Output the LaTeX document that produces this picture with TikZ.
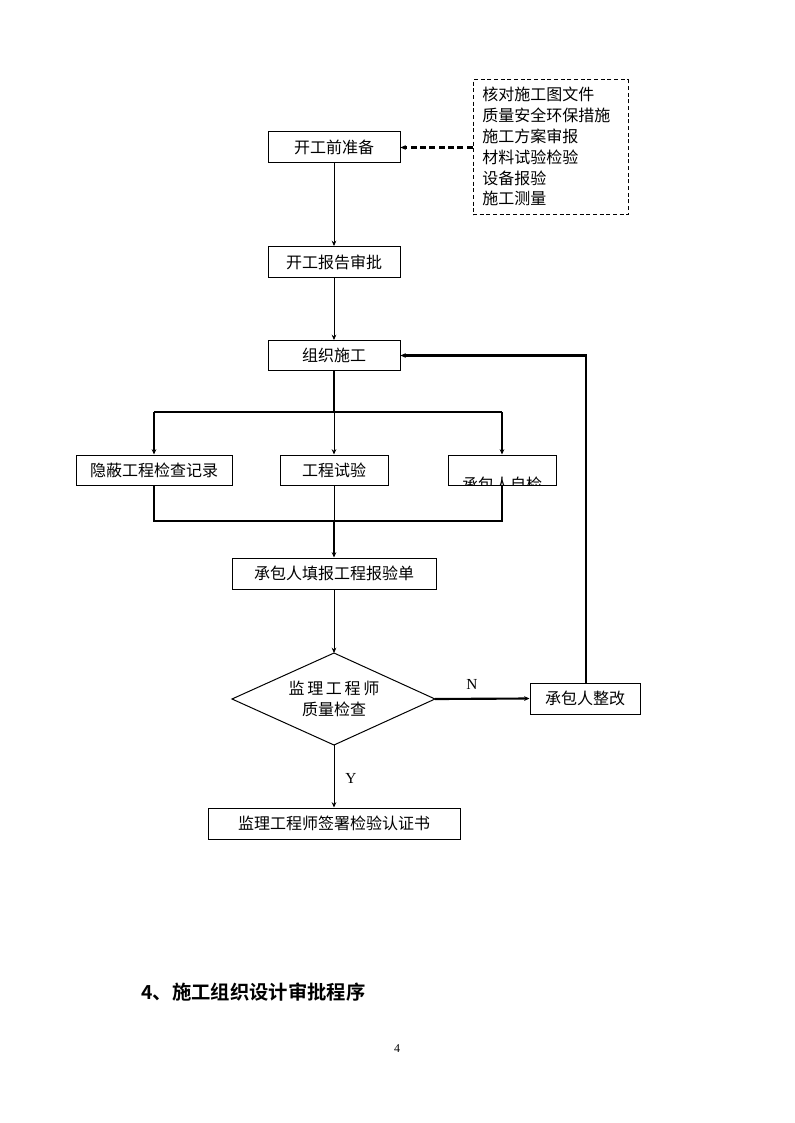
\documentclass[tikz,border=0pt]{standalone}
\usepackage{fontspec}
\setmainfont{Liberation Serif}
\newfontfamily\cjk{Noto Sans CJK SC}
\newfontfamily\cjkb{Noto Sans CJK SC Bold}
\usetikzlibrary{shapes.geometric,arrows.meta}
\begin{document}
\begin{tikzpicture}[x=0.75pt,y=-0.75pt,
  box/.style={draw,line width=0.75pt,inner sep=0pt,font=\cjk\fontsize{12}{14}\selectfont},
  thin/.style={line width=0.75pt},
  thick2/.style={line width=1.6pt},
  arr/.style={-{Stealth[length=4pt,width=3.5pt]}},
  lbl/.style={font=\fontsize{11.5}{13}\selectfont}]
\useasboundingbox (0,0) rectangle (794,1123);
\fill[white] (0,0) rectangle (794,1123);
% boxes
\node[box,minimum width=99pt,minimum height=23.25pt] (b1) at (334,147.5) {开工前准备};
\node[draw,dash pattern=on 3pt off 2pt,line width=0.75pt,minimum width=116.25pt,minimum height=101.25pt,inner sep=0pt] (dash) at (550.5,147.5) {};
\node[anchor=north west,align=left,inner sep=0pt,font=\cjk\fontsize{12}{15.6}\selectfont] (dtext) at (482,87) {核对施工图文件\\质量安全环保措施\\施工方案审报\\材料试验检验\\设备报验\\施工测量};
\node[box,minimum width=99pt,minimum height=23.25pt] (b2) at (334,262) {开工报告审批};
\node[box,minimum width=99pt,minimum height=22.5pt] (b3) at (334,355.5) {组织施工};
\node[box,minimum width=117pt,minimum height=22.5pt] (c1) at (154,470) {隐蔽工程检查记录};
\node[box,minimum width=81pt,minimum height=22.5pt] (c2) at (334,470) {工程试验};
\node[box,minimum width=81pt,minimum height=22.5pt] (c3) at (502,470) {};
\begin{scope}
\clip (c3.south west) rectangle (c3.north east);
\node[inner sep=0pt,font=\cjk\fontsize{12}{14}\selectfont] (c3t) at (502,484.5) {承包人自检};
\end{scope}
\node[box,minimum width=153pt,minimum height=23.25pt] (d1) at (334,573.5) {承包人填报工程报验单};
% diamond
\coordinate (dt) at (334,653);
\coordinate (dl) at (232,699);
\coordinate (dr) at (435,699);
\coordinate (db) at (334,745);
\draw[thin] (dt) -- (dr) -- (db) -- (dl) -- cycle;
\node[inner sep=0pt,font=\cjk\fontsize{12}{14}\selectfont] (dtx1) at (334,688) {监\,理\,工\,程\,师};
\node[inner sep=0pt,font=\cjk\fontsize{12}{14}\selectfont] (dtx2) at (334,709) {质量检查};
\node[box,minimum width=82.5pt,minimum height=23.25pt] (fix) at (585,698.5) {承包人整改};
\node[box,minimum width=189pt,minimum height=23.25pt] (sign) at (334,823.5) {监理工程师签署检验认证书};
% connectors
\draw[thick2,dash pattern=on 4.5pt off 2.5pt,arr] (dash.west) -- (b1.east);
\draw[thin,arr] (b1.south) -- (b2.north);
\draw[thin,arr] (b2.south) -- (b3.north);
\coordinate (sp) at (334,412);
\coordinate (spl) at (154,412);
\coordinate (spr) at (502,412);
\draw[thick2] (b3.south) -- (sp);
\draw[thick2] (spl) -- (spr);
\draw[thick2,arr] (spl) -- (c1.north);
\draw[thick2,arr] (spr) -- (c3.north);
\draw[thin,arr] (sp) -- (c2.north);
\coordinate (jn) at (334,521);
\coordinate (jl) at (154,521);
\coordinate (jr) at (502,521);
\draw[thick2] (c1.south) -- (jl) -- (jr) -- (c3.south);
\draw[thin] (c2.south) -- (jn);
\draw[thick2,arr] (jn) -- (d1.north);
\draw[thin,arr] (d1.south) -- (dt);
\draw[thick2,arr] (dr) -- (fix.west);
\node[lbl] (nl) at (472,684) {N};
\coordinate (up) at (586,355.5);
\draw[thick2,arr] (fix.north -| up) -- (up) -- (b3.east);
\draw[thin,arr] (db) -- (sign.north);
\node[lbl] (yl) at (351,778) {Y};
% heading and page number
\node[anchor=west,inner sep=0pt,font=\cjkb\fontsize{14.5}{17}\selectfont] (head) at (141,992) {4、施工组织设计审批程序};
\node[font=\fontsize{9}{11}\selectfont] (pg) at (397,1049) {4};
\end{tikzpicture}
\end{document}
